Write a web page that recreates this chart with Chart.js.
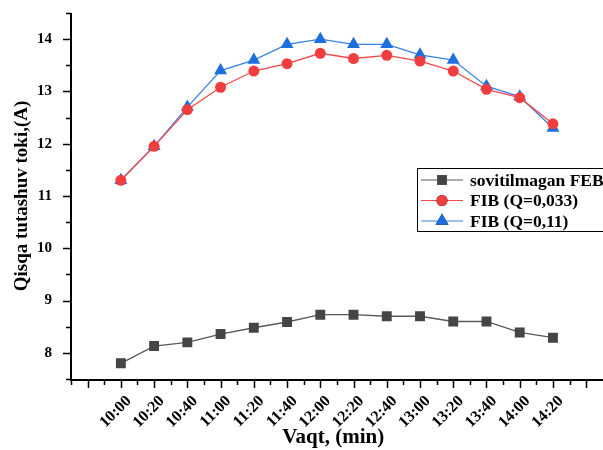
<!DOCTYPE html>
<html lang="en">
<head>
    <meta charset="UTF-8">
    <title>Qisqa tutashuv toki</title>
    <script src="https://cdn.jsdelivr.net/npm/chart.js"></script>
    <style>
        body {
            margin: 0;
            background-color: #ffffff;
        }

        #chartBox {
            width: 603px;
            height: 450px;
        }
    </style>
</head>
<body>
    <div id="chartBox">
        <canvas id="currentChart" width="603" height="450"></canvas>
    </div>

    <script>
        // time points (x axis)
        const timeLabels = ['10:00', '10:20', '10:40', '11:00', '11:20', '11:40', '12:00',
                            '12:20', '12:40', '13:00', '13:20', '13:40', '14:00', '14:20'];

        // short circuit current, A
        const uncooled = [7.8, 8.13, 8.2, 8.36, 8.48, 8.59, 8.73, 8.73, 8.7, 8.7, 8.6, 8.6, 8.39, 8.29];
        const fibQ033 = [11.3, 11.95, 12.65, 13.08, 13.39, 13.53, 13.73, 13.63, 13.69, 13.58, 13.39, 13.04, 12.88, 12.38];
        const fibQ011 = [11.3, 11.95, 12.7, 13.4, 13.6, 13.9, 14.0, 13.9, 13.9, 13.7, 13.6, 13.1, 12.9, 12.3];

        const seriesNames = ['sovitilmagan FEB', 'FIB (Q=0,033)', 'FIB (Q=0,11)'];

        const serif = "'Liberation Serif', 'DejaVu Serif', serif";

        function toPoints(values) {
            return values.map((v, i) => ({ x: i, y: v }));
        }

        function halfSteps(from, to) {
            const list = [];
            for (let v = from; v <= to + 1e-9; v += 0.5) list.push({ value: v });
            return list;
        }

        // axis lines with long / short tick marks
        const axisPlugin = {
            id: 'axisLines',
            afterDraw(chart) {
                const ctx = chart.ctx;
                const { left, top, bottom } = chart.chartArea;
                const xs = chart.scales.x;
                const ys = chart.scales.y;
                ctx.save();
                ctx.strokeStyle = '#000';
                ctx.lineWidth = 2;
                ctx.beginPath();
                ctx.moveTo(left, top);
                ctx.lineTo(left, bottom + 1);
                ctx.lineTo(chart.width, bottom + 1);
                ctx.stroke();

                ctx.lineWidth = 1.5;
                ctx.beginPath();
                xs.ticks.forEach(t => {
                    const px = Math.round(xs.getPixelForValue(t.value)) + 0.5;
                    const len = Number.isInteger(t.value) ? 8 : 5;
                    ctx.moveTo(px, bottom + 1);
                    ctx.lineTo(px, bottom + 1 + len);
                });
                ys.ticks.forEach(t => {
                    const py = Math.round(ys.getPixelForValue(t.value)) + 0.5;
                    const len = Number.isInteger(t.value) ? 8 : 5;
                    ctx.moveTo(left, py);
                    ctx.lineTo(left - len, py);
                });
                ctx.stroke();
                ctx.restore();
            }
        };

        // boxed legend inside the plot
        const legendPlugin = {
            id: 'boxLegend',
            afterDraw(chart) {
                const ctx = chart.ctx;
                const boxX = 417.5, boxY = 168.5, boxW = 200, boxH = 63;
                ctx.save();
                ctx.fillStyle = '#fff';
                ctx.fillRect(boxX, boxY, boxW, boxH);
                ctx.strokeStyle = '#000';
                ctx.lineWidth = 1;
                ctx.strokeRect(boxX, boxY, boxW, boxH);

                chart.data.datasets.forEach((ds, i) => {
                    const rowY = boxY + 11.5 + i * 20.5;
                    ctx.strokeStyle = ds.borderColor;
                    ctx.lineWidth = 1.2;
                    ctx.beginPath();
                    ctx.moveTo(421, rowY);
                    ctx.lineTo(463, rowY);
                    ctx.stroke();
                    Chart.helpers.drawPoint(ctx, {
                        pointStyle: ds.pointStyle,
                        radius: ds.pointRadius,
                        borderWidth: 0,
                        rotation: 0
                    }, 442, rowY);
                    ctx.fillStyle = ds.pointBackgroundColor;
                    ctx.fill();

                    ctx.fillStyle = '#000';
                    ctx.font = 'bold 17.5px ' + serif;
                    ctx.textBaseline = 'middle';
                    ctx.textAlign = 'left';
                    ctx.fillText(ds.label, 470, rowY + 1);
                });
                ctx.restore();
            }
        };

        const ctx = document.getElementById('currentChart').getContext('2d');
        new Chart(ctx, {
            type: 'line',
            data: {
                datasets: [
                    {
                        label: seriesNames[0],
                        data: toPoints(uncooled),
                        borderColor: '#5a5a5a',
                        borderWidth: 1.3,
                        pointStyle: 'rect',
                        pointRadius: 7,
                        pointBackgroundColor: '#454545',
                        pointBorderWidth: 0
                    },
                    {
                        label: seriesNames[1],
                        data: toPoints(fibQ033),
                        borderColor: '#f04a4a',
                        borderWidth: 1.3,
                        pointStyle: 'circle',
                        pointRadius: 5.5,
                        pointBackgroundColor: '#f03e3e',
                        pointBorderWidth: 0
                    },
                    {
                        label: seriesNames[2],
                        data: toPoints(fibQ011),
                        borderColor: '#3a82e0',
                        borderWidth: 1.3,
                        pointStyle: 'triangle',
                        pointRadius: 7.5,
                        pointBackgroundColor: '#1e6fde',
                        pointBorderWidth: 0
                    }
                ]
            },
            options: {
                responsive: false,
                animation: false,
                layout: { padding: { top: 13, right: 0, left: 0, bottom: 0 } },
                plugins: {
                    legend: { display: false },
                    tooltip: { enabled: false }
                },
                scales: {
                    x: {
                        type: 'linear',
                        min: -1.5,
                        max: 14.28,
                        afterBuildTicks: scale => { scale.ticks = halfSteps(-1.5, 14); },
                        afterFit: scale => {
                            scale.height = 71;
                            scale.paddingLeft = 0;
                            scale.paddingRight = 0;
                        },
                        grid: { display: false },
                        border: { display: false },
                        ticks: {
                            autoSkip: false,
                            minRotation: 45,
                            maxRotation: 45,
                            padding: 5,
                            labelOffset: 8,
                            color: '#000',
                            font: { family: serif, size: 16, weight: 'bold' },
                            callback: v => (Number.isInteger(v) && v >= 0 && v < timeLabels.length) ? timeLabels[v] : ''
                        },
                        title: {
                            display: true,
                            text: 'Vaqt, (min)',
                            color: '#000',
                            font: { family: serif, size: 21, weight: 'bold' },
                            padding: { top: 0, bottom: 0 }
                        }
                    },
                    y: {
                        min: 7.5,
                        max: 14.5,
                        afterBuildTicks: scale => { scale.ticks = halfSteps(7.5, 14.5); },
                        afterFit: scale => {
                            scale.width = 71;
                            scale.paddingTop = 0;
                            scale.paddingBottom = 0;
                        },
                        grid: { display: false },
                        border: { display: false },
                        ticks: {
                            autoSkip: false,
                            padding: 11,
                            color: '#000',
                            font: { family: serif, size: 15, weight: 'bold' },
                            callback: v => Number.isInteger(v) && v < 14.5 ? String(v) : ''
                        },
                        title: {
                            display: true,
                            text: 'Qisqa tutashuv toki,(A)',
                            color: '#000',
                            font: { family: serif, size: 19, weight: 'bold' },
                            padding: { top: 11, bottom: 0 }
                        }
                    }
                }
            },
            plugins: [axisPlugin, legendPlugin]
        });
    </script>
</body>
</html>
